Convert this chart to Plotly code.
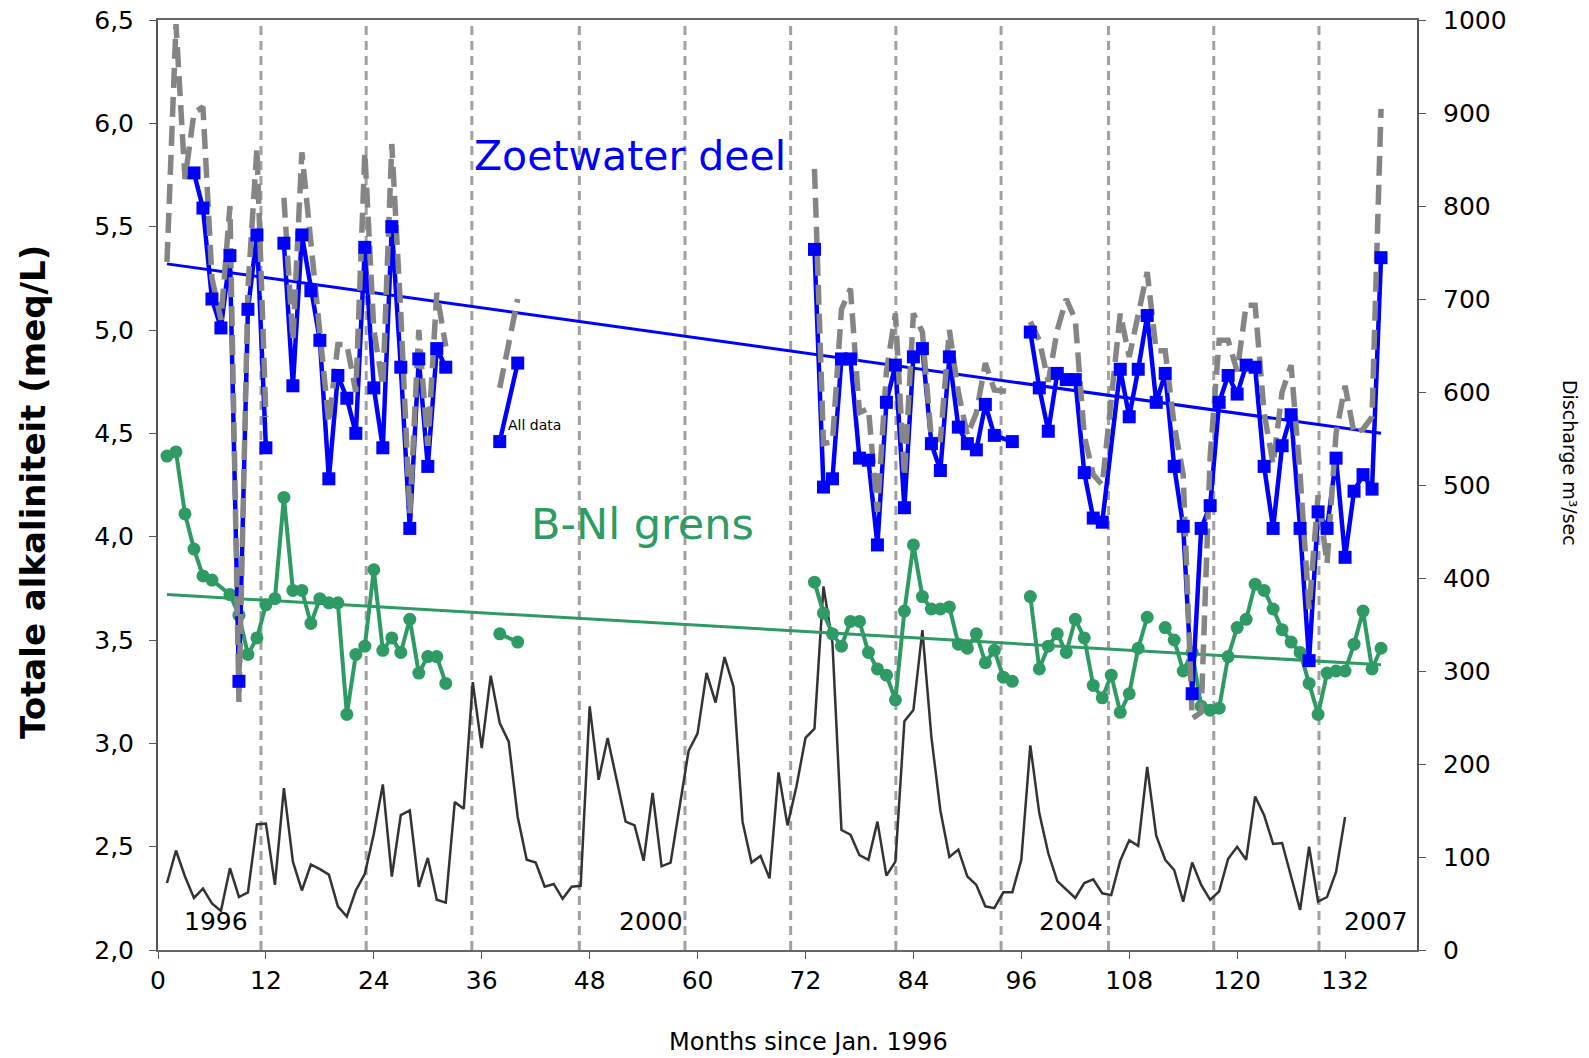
import plotly.graph_objects as go

# ---------------- data ----------------
# Blue: Zoetwater deel, total alkalinity (meq/L); None = gap in the line
blue_month = [4, 5, 6, 7, 8, 9, 10, 11, 12, None,
              14, 15, 16, 17, 18, 19, 20, 21, 22, 23, 24, 25, 26, 27, 28, 29, 30, 31, 32, None,
              38, 40, None,
              73, 74, 75, 76, 77, 78, 79, 80, 81, 82, 83, 84, 85, 86, 87, 88, 89, 90, 91, 92, 93, 95, None,
              97, 98, 99, 100, 101, 102, 103, 104, 105, 107, 108, 109, 110, 111, 112, 113, 114, 115, 116,
              117, 118, 119, 120, 121, 122, 123, 124, 125, 126, 127, 128, 129, 130, 131, 132, 133, 134, 135, 136]
blue_alk = [5.76, 5.59, 5.15, 5.01, 5.36, 3.30, 5.10, 5.46, 4.43, None,
            5.42, 4.73, 5.46, 5.19, 4.95, 4.28, 4.78, 4.67, 4.50, 5.40, 4.72, 4.43, 5.50, 4.82, 4.04, 4.86, 4.34, 4.91, 4.82, None,
            4.46, 4.84, None,
            5.39, 4.24, 4.28, 4.86, 4.86, 4.38, 4.37, 3.96, 4.65, 4.83, 4.14, 4.87, 4.91, 4.45, 4.32, 4.87, 4.53, 4.45, 4.42, 4.64, 4.49, 4.46, None,
            4.99, 4.72, 4.51, 4.79, 4.76, 4.76, 4.31, 4.09, 4.07, 4.81, 4.58, 4.81, 5.07, 4.65, 4.79, 4.34, 4.05, 3.24, 4.04,
            4.15, 4.65, 4.78, 4.69, 4.83, 4.82, 4.34, 4.04, 4.44, 4.59, 4.04, 3.40, 4.12, 4.04, 4.38, 3.90, 4.22, 4.30, 4.23, 5.35]

# Grey dashed: all data
grey_month = [1, 2, 3, 4, 5, 6, 7, 8, 9, 10, 11, 12, None,
              14, 15, 16, 17, 18, 19, 20, 21, 22, 23, 24, 25, 26, 27, 28, 29, 30, 31, 32, None,
              38, 40, None,
              73, 74, 75, 76, 77, 78, 79, 80, 81, 82, 83, 84, 85, 86, 87, 88, 89, 90, 91, 92, 93, 95, None,
              97, 98, 99, 100, 101, 102, 103, 104, 105, 107, 108, 109, 110, 111, 112, 113, 114, 115, 116,
              117, 118, 119, 120, 121, 122, 123, 124, 125, 126, 127, 128, 129, 130, 131, 132, 133, 134, 135, 136]
grey_alk = [5.33, 6.48, 5.73, 6.05, 6.08, 5.25, 5.05, 5.60, 3.20, 5.20, 5.88, 4.58, None,
            5.64, 4.95, 5.86, 5.44, 5.00, 4.55, 4.93, 4.93, 4.70, 5.86, 5.00, 4.73, 5.90, 5.08, 4.11, 5.00, 4.44, 5.18, 4.92, None,
            4.72, 5.15, None,
            5.78, 4.45, 4.46, 5.10, 5.20, 4.60, 4.62, 4.12, 4.80, 5.08, 4.29, 5.08, 4.99, 4.47, 4.47, 5.00, 4.70, 4.49, 4.60, 4.84, 4.71, 4.70, None,
            5.04, 4.95, 4.75, 5.00, 5.15, 5.05, 4.49, 4.30, 4.25, 5.08, 4.87, 5.07, 5.28, 4.90, 4.90, 4.54, 4.30, 3.12, 3.15,
            4.39, 4.95, 4.95, 4.80, 5.12, 5.12, 4.60, 4.35, 4.70, 4.83, 4.30, 3.65, 4.20, 3.87, 4.50, 4.73, 4.50, 4.52, 4.58, 6.07]

# Green: B-Nl grens
green_month = [1, 2, 3, 4, 5, 6, 8, 9, 10, 11, 12, 13, 14, 15, 16, 17, 18, 19, 20, 21, 22, 23, 24, 25, 26, 27, 28, 29, 30, 31, 32, None,
               38, 40, None,
               73, 74, 75, 76, 77, 78, 79, 80, 81, 82, 83, 84, 85, 86, 87, 88, 89, 90, 91, 92, 93, 94, 95, None,
               97, 98, 99, 100, 101, 102, 103, 104, 105, 106, 107, 108, 109, 110, None,
               112, 113, 114, 115, 116, 117, 118, 119, 120, 121, 122, 123, 124, 125, 126, 127, 128, 129, 130,
               131, 132, 133, 134, 135, 136]
green_alk = [4.39, 4.41, 4.11, 3.94, 3.81, 3.79, 3.72, 3.62, 3.43, 3.51, 3.67, 3.70, 4.19, 3.74, 3.74, 3.58, 3.70, 3.68, 3.68,
             3.14, 3.43, 3.47, 3.84, 3.45, 3.51, 3.44, 3.60, 3.34, 3.42, 3.42, 3.29, None,
             3.53, 3.49, None,
             3.78, 3.63, 3.53, 3.47, 3.59, 3.59, 3.44, 3.36, 3.33, 3.21, 3.64, 3.96, 3.71, 3.65, 3.65, 3.66, 3.48, 3.46, 3.53, 3.39,
             3.45, 3.32, 3.30, None,
             3.71, 3.36, 3.47, 3.53, 3.44, 3.60, 3.51, 3.28, 3.22, 3.33, 3.15, 3.24, 3.46, 3.61, None,
             3.56, 3.50, 3.35, 3.44, 3.18, 3.16, 3.17, 3.42, 3.56, 3.60, 3.77, 3.74, 3.65, 3.55, 3.49, 3.44, 3.29, 3.14, 3.34,
             3.35, 3.35, 3.48, 3.64, 3.36, 3.46]

# Trend lines (end points)
trend_month = [1, 136]
blue_trend = [5.32, 4.50]
green_trend = [3.72, 3.38]

# Discharge (m3/sec), months 1..132
discharge_month = list(range(1, 133))
discharge = [72, 107, 79, 56, 66, 50, 42, 88, 57, 62,
             135, 136, 70, 174, 95, 64, 92, 87, 81, 47,
             36, 64, 82, 125, 178, 79, 145, 150, 68, 99,
             54, 51, 159, 152, 288, 217, 295, 244, 224, 143,
             97, 94, 68, 71, 55, 68, 69, 262, 183, 228,
             183, 138, 134, 96, 169, 90, 94, 152, 214, 233,
             298, 266, 315, 283, 138, 94, 101, 77, 191, 134,
             176, 228, 238, 391, 330, 129, 124, 102, 97, 138,
             80, 95, 246, 258, 344, 229, 150, 100, 108, 79,
             70, 47, 45, 62, 62, 97, 220, 147, 104, 74,
             65, 56, 72, 76, 61, 59, 96, 118, 112, 197,
             123, 97, 86, 52, 94, 70, 54, 63, 98, 111,
             97, 165, 145, 114, 115, 79, 43, 111, 52, 57,
             84, 143]

# Year boundary markers (dashed verticals) and year labels
year_boundary = [11.45, 23.15, 34.9, 46.85, 58.6, 70.35, 82.05, 93.75, 105.7, 117.4, 129.1]
year_label = ["1996", "2000", "2004", "2007"]
year_label_month = [6.4, 54.8, 101.5, 135.4]
year_label_alk = 2.14

x_ticks = [0, 12, 24, 36, 48, 60, 72, 84, 96, 108, 120, 132]
alk_ticks = [2.0, 2.5, 3.0, 3.5, 4.0, 4.5, 5.0, 5.5, 6.0, 6.5]
discharge_ticks = [0, 100, 200, 300, 400, 500, 600, 700, 800, 900, 1000]

# ---------------- styling ----------------
BLUE = "#0000ff"
GREEN = "#2e9a64"
GREY = "#858585"
FONT = "DejaVu Sans"

fig = go.Figure()

# discharge on primary axis (right side) so alkalinity is drawn on top
fig.add_trace(go.Scatter(x=discharge_month, y=discharge, mode="lines",
                         line=dict(color="#333333", width=2.5), yaxis="y"))

fig.add_trace(go.Scatter(x=trend_month, y=green_trend, mode="lines",
                         line=dict(color=GREEN, width=3), yaxis="y2"))
fig.add_trace(go.Scatter(x=trend_month, y=blue_trend, mode="lines",
                         line=dict(color=BLUE, width=3), yaxis="y2"))
fig.add_trace(go.Scatter(x=green_month, y=green_alk, mode="lines+markers",
                         line=dict(color=GREEN, width=4),
                         marker=dict(symbol="circle", size=13, color=GREEN), yaxis="y2"))
fig.add_trace(go.Scatter(x=blue_month, y=blue_alk, mode="lines",
                         line=dict(color=BLUE, width=4.5), yaxis="y2"))
fig.add_trace(go.Scatter(x=grey_month, y=grey_alk, mode="lines",
                         line=dict(color=GREY, width=5.5, dash="20px,9px"), yaxis="y2"))
fig.add_trace(go.Scatter(x=blue_month, y=blue_alk, mode="markers",
                         marker=dict(symbol="square", size=13, color=BLUE), yaxis="y2"))

for xv in year_boundary:
    fig.add_shape(type="line", xref="x", yref="paper", x0=xv, x1=xv, y0=0, y1=1,
                  line=dict(color="#a0a0a0", width=3, dash="9px,6px"), layer="below")

annotations = []
for t, xm in zip(year_label, year_label_month):
    annotations.append(dict(x=xm, y=year_label_alk, xref="x", yref="y2", text=t,
                            showarrow=False, font=dict(family=FONT, size=25, color="black")))
annotations += [
    dict(x=52.5, y=5.84, xref="x", yref="y2", text="Zoetwater deel", showarrow=False,
         font=dict(family=FONT, size=41, color=BLUE)),
    dict(x=53.9, y=4.06, xref="x", yref="y2", text="B-Nl grens", showarrow=False,
         font=dict(family=FONT, size=43, color=GREEN)),
    dict(x=41.9, y=4.54, xref="x", yref="y2", text="All data", showarrow=False,
         font=dict(family=FONT, size=14, color="black")),
    dict(x=-0.0993, y=0.4925, xref="paper", yref="paper", text="<b>Totale alkaliniteit (meq/L)</b>",
         xanchor="center", yanchor="middle",
         textangle=-90, showarrow=False, font=dict(family=FONT, size=34, color="black")),
    dict(x=1.1215, y=0.5237, xref="paper", yref="paper", text="Discharge m³/sec",
         xanchor="center", yanchor="middle",
         textangle=90, showarrow=False, font=dict(family=FONT, size=19, color="black")),
    dict(x=0.5164, y=-0.099, xref="paper", yref="paper", text="Months since Jan. 1996",
         xanchor="center", yanchor="middle",
         showarrow=False, font=dict(family=FONT, size=24, color="black")),
]

fig.update_layout(
    width=1589, height=1058,
    margin=dict(l=158, r=172, t=20, b=108, autoexpand=False),
    paper_bgcolor="white", plot_bgcolor="white",
    showlegend=False,
    separators=",.",
    font=dict(family=FONT, color="black"),
    annotations=annotations,
    xaxis=dict(range=[0, 140], tickvals=x_ticks, ticks="outside", ticklen=7,
               tickcolor="#555555", showgrid=False, zeroline=False, automargin=False,
               showline=True, linecolor="#666666", linewidth=2, mirror=True,
               ticklabeloverflow="allow",
               tickfont=dict(family=FONT, size=25, color="black")),
    yaxis=dict(range=[0, 1000], tickvals=discharge_ticks, side="right",
               ticks="outside", ticklen=7, tickcolor="#555555", ticklabelstandoff=12,
               ticklabeloverflow="allow", automargin=False,
               showgrid=False, zeroline=False, showline=True, linecolor="#555555", linewidth=2,
               tickfont=dict(family=FONT, size=25, color="black")),
    yaxis2=dict(range=[2.0, 6.5], tickvals=alk_ticks, tickformat=".1f", side="left",
                overlaying="y", ticks="outside", ticklen=7, tickcolor="#555555", ticklabelstandoff=10,
                ticklabeloverflow="allow", automargin=False,
                showgrid=False, zeroline=False, showline=True, linecolor="#555555", linewidth=2,
                tickfont=dict(family=FONT, size=25, color="black")),
)

# remove the browser's default 8px page margin so the figure fills the window exactly
fig.write_html("out.html", config={"displayModeBar": False},
               post_script="document.body.style.margin='0';document.body.style.overflow='hidden';")
